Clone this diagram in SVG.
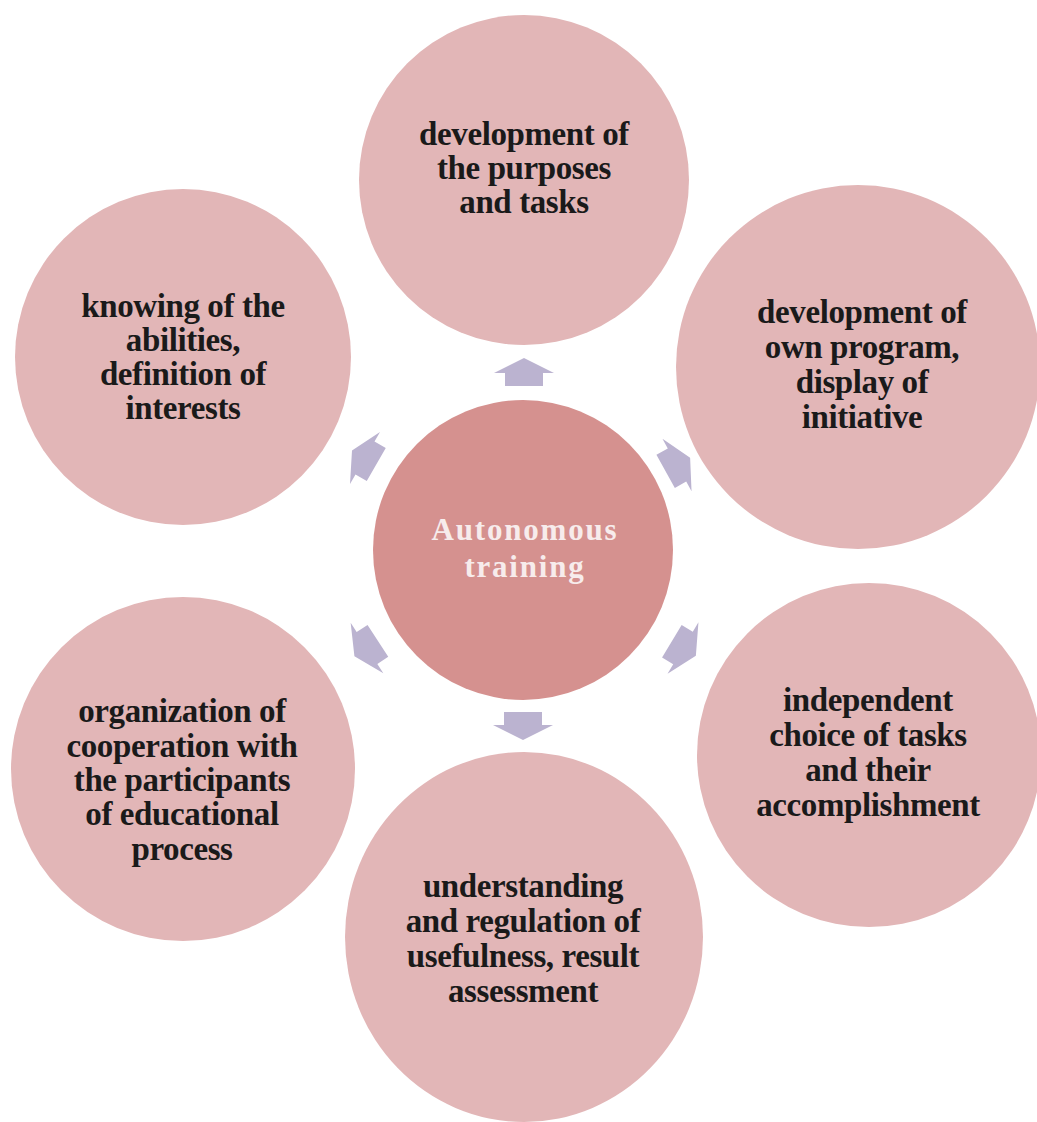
<svg xmlns="http://www.w3.org/2000/svg" width="1037" height="1122" viewBox="0 0 1037 1122">
<style>
.outer{fill:#E2B6B7}
.core{fill:#D5918F}
.arr{fill:#BBB3D0}
.t{font-family:"Liberation Serif","Times New Roman",serif;font-weight:bold;font-size:33px;fill:#1a1a1a;text-anchor:middle;letter-spacing:-0.4px}
.c{font-family:"Liberation Serif","Times New Roman",serif;font-weight:bold;font-size:31px;fill:#F7ECEC;text-anchor:middle;letter-spacing:1.8px}
</style>
<defs>
<path id="arrow" d="M0,-15 L30,0 L19,0 L19,13 L-19,13 L-19,0 L-30,0 Z"/>
</defs>
<rect width="1037" height="1122" fill="#ffffff"/>
<g id="connectors">
<use href="#arrow" class="arr" transform="translate(524,373) rotate(0)"/>
<use href="#arrow" class="arr" transform="translate(677,465) rotate(61)"/>
<use href="#arrow" class="arr" transform="translate(683,648) rotate(121)"/>
<use href="#arrow" class="arr" transform="translate(523,725) rotate(180)"/>
<use href="#arrow" class="arr" transform="translate(367,648) rotate(237)"/>
<use href="#arrow" class="arr" transform="translate(365,458) rotate(300)"/>
</g>
<g id="node-top">
<circle class="outer" cx="524" cy="180" r="165"/>
<text class="t"><tspan x="524" y="145">development of</tspan><tspan x="524" y="179">the purposes</tspan><tspan x="524" y="213">and tasks</tspan></text>
</g>
<g id="node-upper-right">
<circle class="outer" cx="858" cy="367" r="182"/>
<text class="t"><tspan x="862" y="323">development of</tspan><tspan x="862" y="358">own program,</tspan><tspan x="862" y="393">display of</tspan><tspan x="862" y="428">initiative</tspan></text>
</g>
<g id="node-lower-right">
<circle class="outer" cx="869" cy="755" r="172"/>
<text class="t"><tspan x="868" y="711">independent</tspan><tspan x="868" y="746">choice of tasks</tspan><tspan x="868" y="781">and their</tspan><tspan x="868" y="816">accomplishment</tspan></text>
</g>
<g id="node-bottom">
<ellipse class="outer" cx="524" cy="937" rx="179" ry="185"/>
<text class="t"><tspan x="523" y="897">understanding</tspan><tspan x="523" y="932">and regulation of</tspan><tspan x="523" y="967">usefulness, result</tspan><tspan x="523" y="1002">assessment</tspan></text>
</g>
<g id="node-lower-left">
<circle class="outer" cx="183" cy="769" r="172"/>
<text class="t"><tspan x="182" y="722">organization of</tspan><tspan x="182" y="757">cooperation with</tspan><tspan x="182" y="791">the participants</tspan><tspan x="182" y="825">of educational</tspan><tspan x="182" y="860">process</tspan></text>
</g>
<g id="node-upper-left">
<circle class="outer" cx="183" cy="357" r="168"/>
<text class="t"><tspan x="183" y="317">knowing of the</tspan><tspan x="183" y="351">abilities,</tspan><tspan x="183" y="385">definition of</tspan><tspan x="183" y="419">interests</tspan></text>
</g>
<g id="node-center">
<circle class="core" cx="523" cy="550" r="150"/>
<text class="c"><tspan x="525" y="540">Autonomous</tspan><tspan x="525" y="577">training</tspan></text>
</g>
</svg>
